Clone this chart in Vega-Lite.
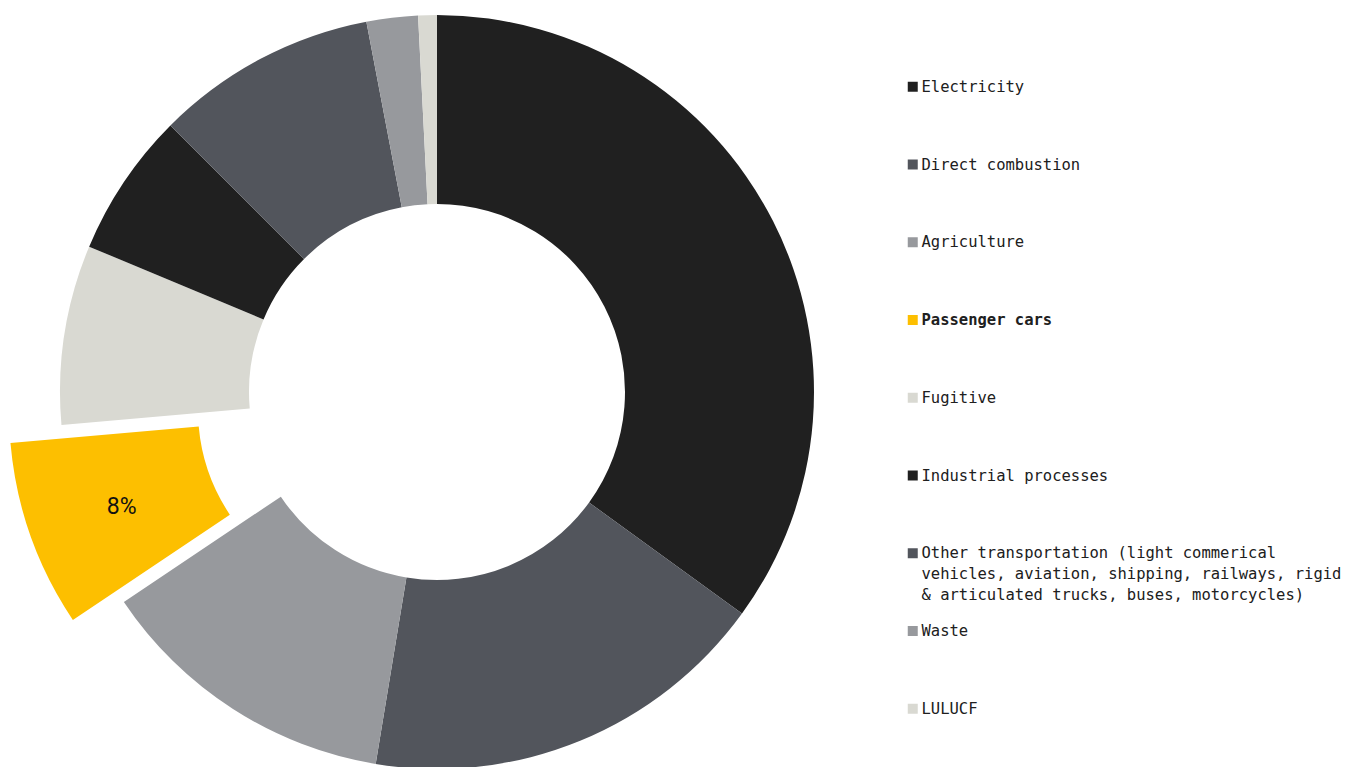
{
  "$schema": "https://vega.github.io/schema/vega-lite/v6.json",
  "width": 874,
  "height": 750,
  "padding": {"left": 0, "top": 17, "right": 475, "bottom": 0},
  "autosize": {"type": "none"},
  "background": "white",
  "config": {"view": {"stroke": null}, "style": {"guide-label": {"lineHeight": 21}}},
  "data": {
    "values": [
      {"category": "Electricity", "value": 35.0, "rank": 1, "label": ""},
      {"category": "Direct combustion", "value": 17.6, "rank": 2, "label": ""},
      {"category": "Agriculture", "value": 13.0, "rank": 3, "label": ""},
      {"category": "Passenger cars", "value": 8.0, "rank": 4, "label": "8%"},
      {"category": "Fugitive", "value": 7.7, "rank": 5, "label": ""},
      {"category": "Industrial processes", "value": 6.2, "rank": 6, "label": ""},
      {"category": "Other transportation (light commerical vehicles, aviation, shipping, railways, rigid & articulated trucks, buses, motorcycles)", "value": 9.5, "rank": 7, "label": ""},
      {"category": "Waste", "value": 2.2, "rank": 8, "label": ""},
      {"category": "LULUCF", "value": 0.8, "rank": 9, "label": ""}
    ]
  },
  "encoding": {
    "theta": {"field": "value", "type": "quantitative", "stack": true},
    "order": {"field": "rank", "type": "quantitative"},
    "color": {
      "field": "category",
      "type": "nominal",
      "sort": null,
      "scale": {
        "domain": ["Electricity", "Direct combustion", "Agriculture", "Passenger cars", "Fugitive", "Industrial processes", "Other transportation (light commerical vehicles, aviation, shipping, railways, rigid & articulated trucks, buses, motorcycles)", "Waste", "LULUCF"],
        "range": ["#202020", "#52555c", "#97999d", "#fdbf00", "#d9d9d2", "#202020", "#52555c", "#97999d", "#d9d9d2"]
      },
      "legend": {
        "title": null,
        "orient": "none",
        "legendX": 905,
        "legendY": 62,
        "padding": 0,
        "symbolType": "square",
        "symbolSize": 100,
        "symbolStrokeWidth": 0,
        "labelFont": "DejaVu Sans Mono",
        "labelFontSize": 15.5,
        "labelColor": "#202020",
        "labelFontWeight": {"expr": "datum.label === 'Passenger cars' ? 'bold' : 'normal'"},
        "labelOffset": 1,
        "labelLimit": 0,
        "rowPadding": 18.75,
        "gridAlign": "all",
        "labelExpr": "indexof(datum.label, 'Other transportation') === 0 ? ['Other transportation (light commerical', 'vehicles, aviation, shipping, railways, rigid', '& articulated trucks, buses, motorcycles)'] : datum.label"
      }
    }
  },
  "layer": [
    {
      "mark": {"type": "arc", "radius": 377, "radius2": 188},
      "encoding": {
        "opacity": {"condition": {"test": "datum.category === 'Passenger cars'", "value": 0}, "value": 1}
      }
    },
    {
      "mark": {"type": "arc", "radius": 377, "radius2": 188, "xOffset": -51, "yOffset": 18},
      "encoding": {
        "opacity": {"condition": {"test": "datum.category === 'Passenger cars'", "value": 1}, "value": 0}
      }
    },
    {
      "mark": {"type": "text", "radius": 282.5, "xOffset": -49, "yOffset": 21, "font": "Roboto", "fontSize": 23, "align": "center", "baseline": "middle"},
      "encoding": {
        "text": {"field": "label", "type": "nominal"},
        "color": {"value": "#111111"}
      }
    }
  ]
}
